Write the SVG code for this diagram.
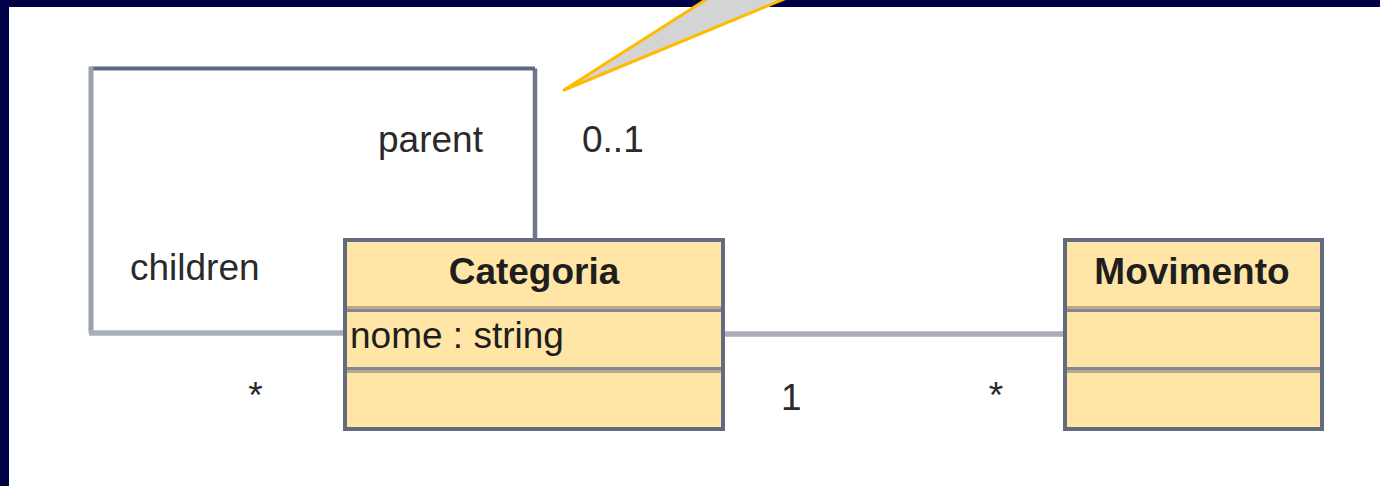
<svg xmlns="http://www.w3.org/2000/svg" width="1380" height="486" viewBox="0 0 1380 486">
  <style>
    .lbl { font-family: "Liberation Sans", Arial, sans-serif; font-size: 37px; fill: #2a2a2a; }
    .title { font-family: "Liberation Sans", Arial, sans-serif; font-size: 37px; font-weight: bold; fill: #1e1e1e; text-anchor: middle; }
    .attr { font-family: "Liberation Sans", Arial, sans-serif; font-size: 37px; fill: #1e1e1e; }
    .box { fill: #ffe6a6; stroke: #636b80; stroke-width: 4; }
    .divA { stroke: #b8aa88; stroke-width: 3; }
    .divB { stroke: #838894; stroke-width: 3; }
  </style>
  <rect x="0" y="0" width="1380" height="486" fill="#000046"/>
  <rect x="9" y="7" width="1371" height="479" fill="#ffffff"/>

  <g id="callout">
    <polygon points="564,90 721,-10 806,-10" fill="#d4d4d4" stroke="#ffbb00" stroke-width="3" stroke-linejoin="round"/>
  </g>

  <g id="connectors" fill="none">
    <path d="M535,240 V68.5" stroke="#6f7689" stroke-width="4.5"/>
    <path d="M535,68.5 H91" stroke="#5f6880" stroke-width="4"/>
    <path d="M91,66.5 V333" stroke="#9aa0ad" stroke-width="5"/>
    <path d="M89,333 H345" stroke="#a9aeb9" stroke-width="5.5"/>
    <path d="M723,334 H1065" stroke="#a9aeb9" stroke-width="5.5"/>
  </g>

  <g id="labels">
    <text class="lbl" x="378" y="152">parent</text>
    <text class="lbl" x="582" y="152">0..1</text>
    <text class="lbl" x="130" y="280">children</text>
    <text class="lbl" x="255.5" y="408" text-anchor="middle">*</text>
    <text class="lbl" x="781" y="410">1</text>
    <text class="lbl" x="996" y="408" text-anchor="middle">*</text>
  </g>

  <g id="Categoria">
    <rect class="box" x="345" y="240" width="378" height="189"/>
    <line class="divA" x1="347" y1="307.5" x2="721" y2="307.5"/>
    <line class="divB" x1="347" y1="310.5" x2="721" y2="310.5"/>
    <line class="divB" x1="347" y1="368.5" x2="721" y2="368.5"/>
    <line class="divA" x1="347" y1="371.5" x2="721" y2="371.5"/>
    <text class="title" x="534" y="284">Categoria</text>
    <text class="attr" x="350" y="348">nome : string</text>
  </g>

  <g id="Movimento">
    <rect class="box" x="1065" y="240" width="257" height="189"/>
    <line class="divA" x1="1067" y1="307.5" x2="1320" y2="307.5"/>
    <line class="divB" x1="1067" y1="310.5" x2="1320" y2="310.5"/>
    <line class="divB" x1="1067" y1="368.5" x2="1320" y2="368.5"/>
    <line class="divA" x1="1067" y1="371.5" x2="1320" y2="371.5"/>
    <text class="title" x="1192" y="284">Movimento</text>
  </g>
</svg>
